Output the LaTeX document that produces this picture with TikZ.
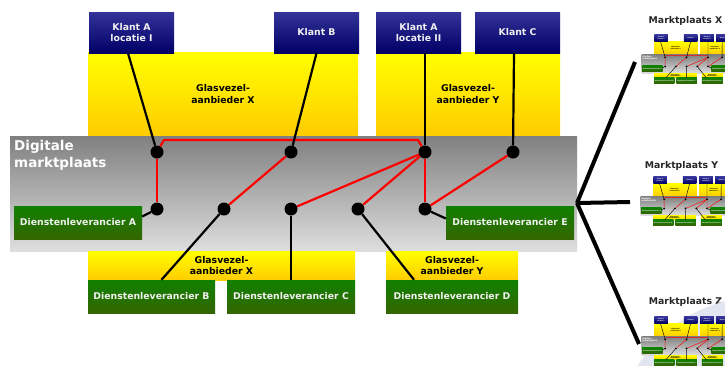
\documentclass[tikz,border=0pt]{standalone}
\usepackage{fontspec}
\setmainfont{DejaVu Sans}
\definecolor{navyT}{RGB}{51,51,153}
\definecolor{navyB}{RGB}{0,0,102}
\definecolor{yelT}{RGB}{255,255,0}
\definecolor{yelB}{RGB}{255,204,0}
\definecolor{greyT}{RGB}{128,128,128}
\definecolor{greyB}{RGB}{222,222,222}
\definecolor{grnT}{RGB}{16,128,0}
\definecolor{grnB}{RGB}{51,102,0}
\definecolor{txtW}{RGB}{240,240,240}
\definecolor{paleblue}{RGB}{225,230,240}
\def\lws{1}
\tikzset{
  box/.style={rectangle, inner sep=0pt, align=center, font=\bfseries\fontsize{9.3}{11.5}\selectfont},
  klant/.style={box, top color=navyT, bottom color=navyB, text=txtW, minimum width=85pt, minimum height=41pt},
  glas/.style={box, top color=yelT, bottom color=yelB, text=black},
  dienst/.style={box, top color=grnT, bottom color=grnB, text=txtW, minimum height=33pt},
  panel/.style={rectangle, inner sep=0pt, top color=greyT, bottom color=greyB},
  dot/.style={circle, fill=black, inner sep=0pt, minimum size=13pt},
  redline/.style={draw=red, line width={2.2*\lws}, line join=round},
  blkline/.style={draw=black, line width={2.2*\lws}},
  fanline/.style={draw=black, line width=4pt},
  mlabel/.style={font=\bfseries\fontsize{9.3}{11}\selectfont, text=black!85, inner sep=0pt},
}
\newcommand\mpdiagram{%
  \node[glas, minimum width=270pt, minimum height=84pt] (gXt) at (223,94) {Glasvezel-\\aanbieder X};
  \node[glas, minimum width=184pt, minimum height=84pt] (gYt) at (468,94) {Glasvezel-\\aanbieder Y};
  \node[klant] (kA) at (131.5,32.5) {Klant A\\locatie I};
  \node[klant] (kB) at (316.5,32.5) {Klant B};
  \node[klant] (kA2) at (418.5,32.5) {Klant A\\locatie II};
  \node[klant] (kC) at (517.5,32.5) {Klant C};
  \node[panel, minimum width=567pt, minimum height=115pt] (pan) at (293.5,193.5) {};
  \node[anchor=north west, inner sep=0pt, align=left, text=white, font=\bfseries\fontsize{13.5}{16.5}\selectfont] (title) at (14,140.5) {Digitale\\marktplaats};
  \node[glas, minimum width=267pt, minimum height=29pt] (gXb) at (221.5,265.5) {Glasvezel-\\aanbieder X};
  \node[glas, minimum width=132pt, minimum height=29pt] (gYb) at (452,265.5) {Glasvezel-\\aanbieder Y};
  \node[dienst, minimum width=128pt] (dA) at (78,222.5) {Dienstenleverancier A};
  \node[dienst, minimum width=127pt] (dB) at (151.5,296.5) {Dienstenleverancier B};
  \node[dienst, minimum width=128pt] (dC) at (291,296.5) {Dienstenleverancier C};
  \node[dienst, minimum width=132pt] (dD) at (452,296.5) {Dienstenleverancier D};
  \node[dienst, minimum width=128pt] (dE) at (510,222.5) {Dienstenleverancier E};
  \node[dot] (d1) at (157,152) {};
  \node[dot] (d2) at (291,152) {};
  \node[dot] (d3) at (425,152) {};
  \node[dot] (d4) at (513,152) {};
  \node[dot] (d5) at (157,209) {};
  \node[dot] (d6) at (224,209) {};
  \node[dot] (d7) at (291,209) {};
  \node[dot] (d8) at (358,209) {};
  \node[dot] (d9) at (425,209) {};
  \coordinate (r1) at (164,140);
  \coordinate (r2) at (418,140);
  \draw[redline] (d1) -- (r1) -- (r2) -- (d3);
  \draw[redline] (d1) -- (d5);
  \draw[redline] (d2) -- (d6);
  \draw[redline] (d3) -- (d7);
  \draw[redline] (d3) -- (d8);
  \draw[redline] (d3) -- (d9);
  \draw[redline] (d4) -- (d9);
  \draw[blkline] ([xshift=-3.5pt]kA.south) -- (d1);
  \draw[blkline] (kB.south) -- (d2);
  \draw[blkline] ([xshift=6.5pt]kA2.south) -- (d3);
  \draw[blkline] ([xshift=-3.5pt]kC.south) -- (d4);
  \draw[blkline] (d5) -- ([yshift=6pt]dA.east);
  \draw[blkline] (d6) -- ([xshift=10pt]dB.north);
  \draw[blkline] (d7) -- (dC.north);
  \draw[blkline] (d8) -- ([xshift=-38pt]dD.north);
  \draw[blkline] (d9) -- ([yshift=4pt]dE.west);
}
\begin{document}
\begin{tikzpicture}[x=1pt,y=-1pt]
  \useasboundingbox (0,0) rectangle (725,365);
  \fill[white] (0,0) rectangle (725,365);
  \mpdiagram
  \coordinate (fan) at (577,203);
  \coordinate (fX) at (635,62);
  \coordinate (fY) at (630,202);
  \coordinate (fZ) at (639,344);
  \draw[fanline] (fan) -- (fX);
  \draw[fanline] (fan) -- (fY);
  \draw[fanline] (fan) -- (fZ);
  \node[mlabel] (mX) at (685.5,21) {Marktplaats X};
  \node[mlabel] (mY) at (681.5,166) {Marktplaats Y};
  \node[mlabel] (mZ) at (685.5,302) {Marktplaats Z};
  \begin{scope}
    \clip (0,0) rectangle (725,365);
    \fill[paleblue] (760,440) circle[radius=143];
    \begin{scope}[shift={(640,33)}, scale=0.16, transform shape, name prefix=tx-]
      \def\lws{0.2}
      \mpdiagram
    \end{scope}
    \begin{scope}[shift={(639,175)}, scale=0.16, transform shape, name prefix=ty-]
      \def\lws{0.2}
      \mpdiagram
    \end{scope}
    \begin{scope}[shift={(640,315)}, scale=0.16, transform shape, name prefix=tz-]
      \def\lws{0.2}
      \mpdiagram
    \end{scope}
  \end{scope}
\end{tikzpicture}
\end{document}
